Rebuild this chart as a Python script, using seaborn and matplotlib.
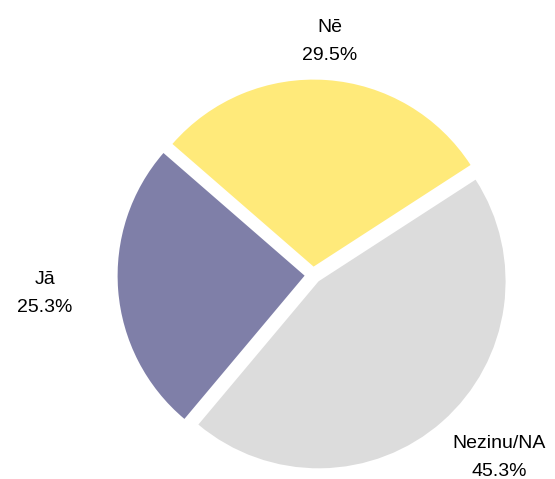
import numpy as np
import matplotlib
matplotlib.use("Agg")
import matplotlib.pyplot as plt
import matplotlib.transforms as mtransforms
import seaborn as sns

# data
labels = ["Jā", "Nē", "Nezinu/NA"]
shares = [25.3, 29.5, 45.3]
colors = ["#7f7fa8", "#ffea7a", "#dcdcdc"]

sns.set_theme(style="white")
plt.rcParams["font.family"] = ["Liberation Sans", "DejaVu Sans"]

fig = plt.figure(figsize=(5.55, 4.79), dpi=100)
W, H = 555, 479
cx, cy, r = 313, 275, 187
side = 2.5 * r
ax = fig.add_axes([(cx - side / 2) / W, 1 - (cy + side / 2) / H, side / W, side / H])

texts_lbl = [f"{l}\n{v:.1f}%" for l, v in zip(labels, shares)]
wedges, texts = ax.pie(
    shares,
    labels=texts_lbl,
    colors=colors,
    startangle=230,
    counterclock=False,
    explode=[0.045] * len(shares),
    labeldistance=1.27,
    wedgeprops=dict(linewidth=0),
    textprops=dict(fontsize=14, multialignment="center", linespacing=1.85, color="black"),
)
ax.set_xlim(-1.25, 1.25)
ax.set_ylim(-1.25, 1.25)
ax.set_aspect("equal")

# label placement: top label centred, side labels anchored outward
dist = [1.28, 1.27, 1.2]
nudge = [(-2, 0), (0, -3), (-9, -14)]  # pixels
for w, t, d, (nx, ny) in zip(wedges, texts, dist, nudge):
    ang = np.deg2rad((w.theta1 + w.theta2) / 2)
    t.set_position((d * np.cos(ang), d * np.sin(ang)))
    if abs(np.cos(ang)) < 0.3:
        t.set_ha("center")
    elif np.cos(ang) < 0:
        t.set_ha("right")
    else:
        t.set_ha("left")
    t.set_va("center")
    t.set_transform(ax.transData + mtransforms.ScaledTranslation(nx / 100, ny / 100, fig.dpi_scale_trans))

fig.savefig("out.png", dpi=100)
